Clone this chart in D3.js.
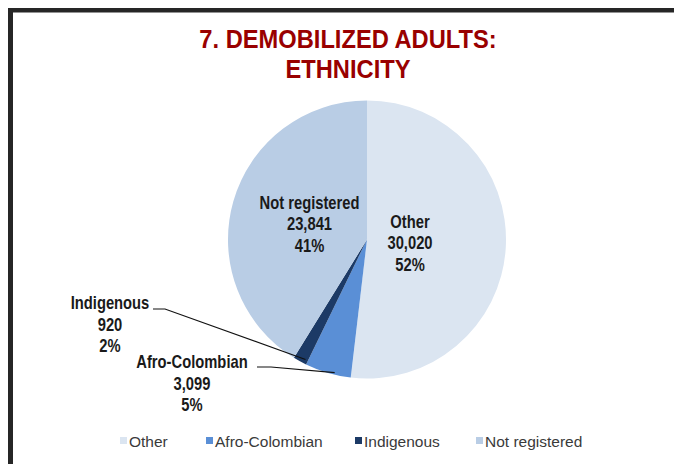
<!DOCTYPE html>
<html>
<head>
<meta charset="utf-8">
<script src="https://cdn.jsdelivr.net/npm/d3@7"></script>
<style>
  html, body { margin: 0; padding: 0; background: #fff; }
  svg { display: block; }
</style>
</head>
<body>
<svg id="chart" width="674" height="464"></svg>
<script>
// ---- data ----
const titleLines = ["7. DEMOBILIZED ADULTS:", "ETHNICITY"];
const categories = ["Other", "Afro-Colombian", "Indigenous", "Not registered"];
const values = [30020, 3099, 920, 23841];
const colors = ["#dbe5f1", "#5a8fd6", "#1c3a66", "#b9cde5"];

// ---- layout ----
const W = 674, H = 464;
const cx = 367, cy = 239.5, R = 139;
const sans = "'Liberation Sans', Arial, sans-serif";
const NARROW = 0.82; // horizontal compression to emulate a narrow face

const svg = d3.select("#chart");

// narrow text helper
function narrowText(sel, x, y, txt, size, weight, fill, anchor, sx) {
  return sel.append("text")
    .attr("transform", `translate(${x},${y}) scale(${sx || NARROW},1)`)
    .attr("text-anchor", anchor || "middle")
    .attr("font-family", sans).attr("font-weight", weight).attr("font-size", size)
    .attr("fill", fill)
    .text(txt);
}

// frame (top and left thick dark border)
svg.append("rect").attr("x", 8).attr("y", 8).attr("width", W - 8).attr("height", 4.5).attr("fill", "#262626");
svg.append("rect").attr("x", 8).attr("y", 8).attr("width", 5).attr("height", H - 8).attr("fill", "#262626");

// title
titleLines.forEach((t, i) => narrowText(svg, 348, 47.5 + i * 30, t, 26.5, "bold", "#990000", "middle", 0.894));

const total = d3.sum(values);
const data = categories.map((c, i) => ({ cat: c, value: values[i], color: colors[i] }));
const pie = d3.pie().value(d => d.value).sort(null);
const arcs = pie(data);
const arc = d3.arc().innerRadius(0).outerRadius(R);

const g = svg.append("g").attr("transform", `translate(${cx},${cy})`);
g.selectAll("path").data(arcs).join("path")
  .attr("d", arc).attr("fill", d => d.data.color);

const fmtN = d3.format(",");
const pct = v => Math.round(v / total * 100) + "%";
const lineH = 21.5;

// inside labels (Other, Not registered)
const insideFactor = { "Other": 0.31, "Not registered": 0.43 };
arcs.filter(a => insideFactor[a.data.cat] !== undefined).forEach(a => {
  const mid = (a.startAngle + a.endAngle) / 2;
  const rr = R * insideFactor[a.data.cat];
  const x = Math.sin(mid) * rr, y = -Math.cos(mid) * rr;
  const lines = [a.data.cat, fmtN(a.data.value), pct(a.data.value)];
  lines.forEach((t, i) => narrowText(g, x, y + (i - 1) * lineH + 7, t, 18, "bold", "#1a1a1a"));
});

// outside labels with leader lines
const outside = {
  "Indigenous": { tx: 110 - cx, ty: 302 - cy, lx: 153 - cx, ly: 309 - cy, elbow: 12, f: 0.2, rf: 0.97 },
  "Afro-Colombian": { tx: 192 - cx, ty: 361 - cy, lx: 257 - cx, ly: 367 - cy, elbow: 14, f: 0.36, rf: 0.985 }
};
arcs.filter(a => outside[a.data.cat]).forEach(a => {
  const o = outside[a.data.cat];
  const ang = a.startAngle + (a.endAngle - a.startAngle) * o.f;
  const px = Math.sin(ang) * R * o.rf, py = -Math.cos(ang) * R * o.rf;
  g.append("path")
    .attr("d", d3.line()([[o.lx, o.ly], [o.lx + o.elbow, o.ly], [px, py]]))
    .attr("fill", "none").attr("stroke", "#111").attr("stroke-width", 1.2);
  const lines = [a.data.cat, fmtN(a.data.value), pct(a.data.value)];
  lines.forEach((t, i) => narrowText(g, o.tx, o.ty + i * lineH + 7, t, 18, "bold", "#1a1a1a"));
});

// legend
const legendX = [120, 206, 355, 476];
const lg = svg.append("g").selectAll("g").data(data).join("g")
  .attr("transform", (d, i) => `translate(${legendX[i]},441)`);
lg.append("rect").attr("x", 0).attr("y", -4).attr("width", 7).attr("height", 7).attr("fill", d => d.color);
lg.append("text").attr("x", 9).attr("y", 5.5)
  .attr("font-family", sans).attr("font-size", 15.5).attr("fill", "#3a3a3a")
  .text(d => d.cat);
</script>
</body>
</html>
